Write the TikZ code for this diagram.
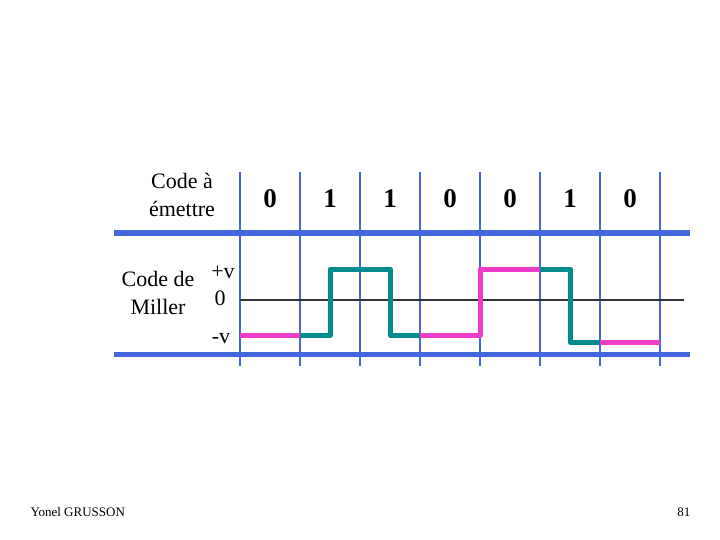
\documentclass[tikz,border=0pt]{standalone}
\usepackage{fontspec}
\setmainfont{Liberation Serif}
\usetikzlibrary{positioning}
\definecolor{gridblue}{RGB}{66,103,222}
\definecolor{pinkline}{RGB}{238,60,200}
\definecolor{tealline}{RGB}{0,140,140}
\tikzset{
	hline/.style={gridblue, line width=5pt},
	vline/.style={gridblue, line width=2.5pt},
	sig/.style={line width=5pt, line join=round},
	bit/.style={font=\fontsize{27}{30}\selectfont\bfseries},
	lbl/.style={font=\fontsize{22}{28}\selectfont, align=center},
	foot/.style={font=\fontsize{13}{15}\selectfont}
}
\begin{document}
\begin{tikzpicture}[x=1pt,y=-1pt]
		\useasboundingbox (0,0) rectangle (720,540);
		% grille
		\foreach \x in {240,300,...,660}
			\draw[vline] (\x,172) -- (\x,366);
		\draw[hline] (114,233) -- (690,233);
		\draw[hline] (114,354) -- (690,354);
		\draw[black!80, line width=1.3pt] (240,300) -- (684,300);
		% textes
		\draw (182,195) node[lbl] (emettre) {Code à\\émettre};
		\draw (158,293) node[lbl] (miller) {Code de\\Miller};
		\draw (223,272) node[lbl] (plusv) {+v};
		\draw (220,298) node[lbl] (zero) {0};
		\draw (221,339) node[lbl] (moinsv) {-v};
		\foreach \b [count=\i] in {0,1,1,0,0,1,0}
			\draw (210+60*\i,199) node[bit] (b\i) {\b};
		% signal
		\draw[sig, pinkline] (240,335) -- (300,335);
		\draw[sig, tealline] (300,335) -- (330,335) -- (330,269) -- (390,269) -- (390,335) -- (420,335);
		\draw[sig, pinkline] (420,335) -- (480,335) -- (480,269) -- (540,269);
		\draw[sig, tealline] (540,269) -- (570,269) -- (570,342) -- (600,342);
		\draw[sig, pinkline] (600,342) -- (660,342);
		% pied de page
		\draw (27,512) node[foot, anchor=west] (auteur) {Yonel GRUSSON};
		\draw (694,512) node[foot, anchor=east] (page) {81};
	\end{tikzpicture}
\end{document}
